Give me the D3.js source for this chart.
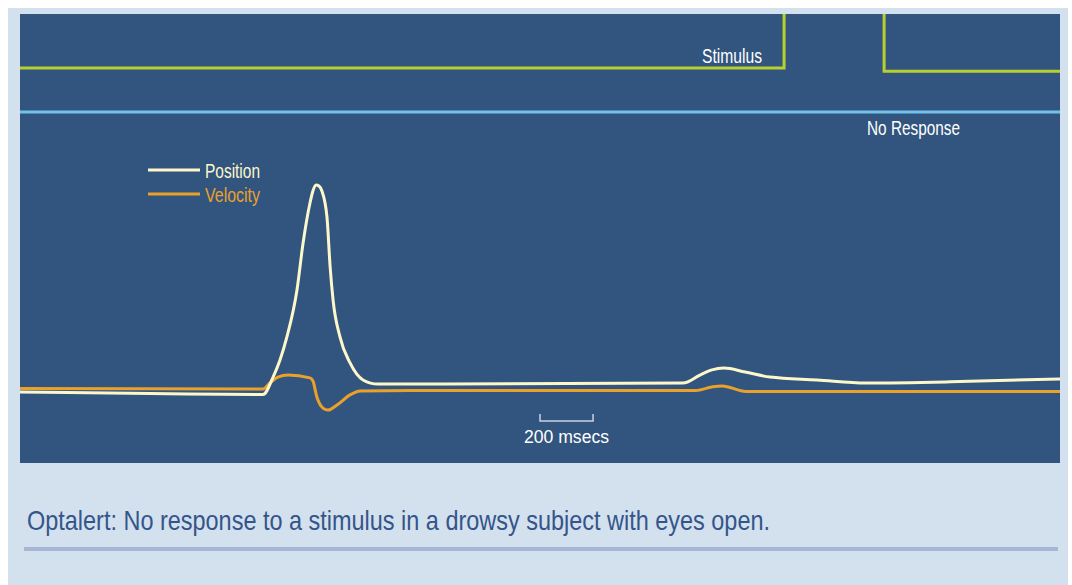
<!DOCTYPE html>
<html lang="en">
<head>
<meta charset="UTF-8">
<title>Optalert: No response</title>
<style>
  html, body { margin: 0; padding: 0; background: #ffffff; }
  svg { display: block; }
  text { font-family: "Liberation Sans", "Roboto", sans-serif; }
</style>
</head>
<body>
<script src="https://cdnjs.cloudflare.com/ajax/libs/d3/7.8.5/d3.min.js"></script>
<script>
// time in ms, amplitude in arbitrary units
var positionT = [0, 490, 916, 954, 980, 1006, 1044, 1067, 1093, 1104, 1116, 1127, 1138, 1157, 1169, 1180, 1206, 1244, 1293, 1349, 2499, 2563, 2608, 2653, 2733, 2827, 3004, 3189, 3543, 3920];
var positionV = [-1.0, -1.7, -2.2, 6.3, 14.6, 25.9, 48.8, 71.7, 91.2, 97.1, 100, 99.5, 97.1, 84.4, 60, 43.9, 25.9, 13.2, 4.9, 2.9, 3.4, 7.3, 9.8, 10.7, 8.8, 6.3, 4.9, 3.4, 4.1, 5.4];

var velocityT = [0, 916, 942, 972, 1010, 1093, 1104, 1119, 1142, 1161, 1195, 1244, 1282, 1470, 2548, 2608, 2646, 2736, 3920];
var velocityV = [0.7, 0.5, 3.4, 6.3, 7.3, 5.9, 4.4, -3.4, -8.8, -9.8, -7.3, -2.4, -0.5, -0.2, -0.2, 1.5, 2.0, -0.7, -0.7];

// stimulus channel (0 = off, 1 = on)
var stimulusT = [0, 2880, 2880, 3257, 3257, 3920];
var stimulusV = [0, 0, 1, 1, -0.05, -0.05];

// response channel - flat, nothing happens
var responseT = [0, 3920];
var responseV = [0, 0];

var scaleBarMs = [1960, 2160];
var legendLabels = ['Position', 'Velocity'];
var caption = 'Optalert: No response to a stimulus in a drowsy subject with eyes open.';

var W = 1072, H = 585;
var panel = { x: 20, y: 14, w: 1040, h: 449 };

var svg = d3.select('body').append('svg')
    .attr('width', W)
    .attr('height', H);

// light background box
svg.append('rect')
    .attr('x', 8).attr('y', 8)
    .attr('width', 1060).attr('height', 577)
    .attr('fill', '#d3e0ee');

// dark chart panel
svg.append('rect')
    .attr('x', panel.x).attr('y', panel.y)
    .attr('width', panel.w).attr('height', panel.h)
    .attr('fill', '#325580');

svg.append('clipPath').attr('id', 'clip')
    .append('rect')
    .attr('x', panel.x).attr('y', panel.y)
    .attr('width', panel.w).attr('height', panel.h);

var x = d3.scaleLinear().domain([0, 3920]).range([panel.x, panel.x + panel.w]);
var y = d3.scaleLinear().domain([0, 100]).range([390, 185]);       // eye traces
var yStim = d3.scaleLinear().domain([0, 1]).range([68, 5]);         // stimulus
var yResp = d3.scaleLinear().domain([0, 1]).range([112, 50]);       // response

function pairs(t, v) {
    return t.map(function (d, i) { return [d, v[i]]; });
}

// condensed look: squeeze text to the width it has in the original
function label(px, py, str, size, width, color, anchor) {
    return svg.append('text')
        .attr('x', px).attr('y', py)
        .attr('text-anchor', anchor || 'start')
        .attr('fill', color)
        .attr('textLength', width)
        .attr('lengthAdjust', 'spacingAndGlyphs')
        .style('font-size', size + 'px')
        .text(str);
}

var g = svg.append('g').attr('clip-path', 'url(#clip)');

g.append('path')
    .datum(pairs(stimulusT, stimulusV))
    .attr('d', d3.line()
        .x(function (d) { return x(d[0]); })
        .y(function (d) { return yStim(d[1]); }))
    .attr('fill', 'none')
    .attr('stroke', '#b8cf2e')
    .attr('stroke-width', 3);

g.append('path')
    .datum(pairs(responseT, responseV))
    .attr('d', d3.line()
        .x(function (d) { return x(d[0]); })
        .y(function (d) { return yResp(d[1]); }))
    .attr('fill', 'none')
    .attr('stroke', '#72c3ea')
    .attr('stroke-width', 3);

var traceLine = d3.line()
    .curve(d3.curveMonotoneX)
    .x(function (d) { return x(d[0]); })
    .y(function (d) { return y(d[1]); });

g.append('path')
    .datum(pairs(velocityT, velocityV))
    .attr('d', traceLine)
    .attr('fill', 'none')
    .attr('stroke', '#e9a12b')
    .attr('stroke-width', 3)
    .attr('stroke-linejoin', 'round');

g.append('path')
    .datum(pairs(positionT, positionV))
    .attr('d', traceLine)
    .attr('fill', 'none')
    .attr('stroke', '#fdf8c9')
    .attr('stroke-width', 3)
    .attr('stroke-linejoin', 'round');

// labels on the channels
label(762, 63, 'Stimulus', 20, 60, '#ffffff', 'end');
label(867, 135, 'No Response', 20, 93, '#ffffff');

// legend
var legendColor = d3.scaleOrdinal().domain(legendLabels).range(['#fdf8c9', '#e9a12b']);
legendLabels.forEach(function (d, i) {
    var ly = 170 + i * 24;
    svg.append('line')
        .attr('x1', 148).attr('x2', 200)
        .attr('y1', ly).attr('y2', ly)
        .attr('stroke', legendColor(d))
        .attr('stroke-width', 3);
    label(205, ly + 8, d, 21, 55, legendColor(d));
});

// 200 msecs scale bar
var barY = 421;
svg.append('path')
    .attr('d', 'M' + x(scaleBarMs[0]) + ',' + (barY - 7) +
               'V' + barY + 'H' + x(scaleBarMs[1]) + 'V' + (barY - 7))
    .attr('fill', 'none')
    .attr('stroke', '#c8d3e3')
    .attr('stroke-width', 1.5);

label((x(scaleBarMs[0]) + x(scaleBarMs[1])) / 2, 443,
      (scaleBarMs[1] - scaleBarMs[0]) + ' msecs', 18, 85, '#ffffff', 'middle');

// caption + rule
label(27, 530, caption, 28, 743, '#34558a');

svg.append('rect')
    .attr('x', 24).attr('y', 547)
    .attr('width', 1034).attr('height', 4)
    .attr('fill', '#a7b6d2');
</script>
</body>
</html>
